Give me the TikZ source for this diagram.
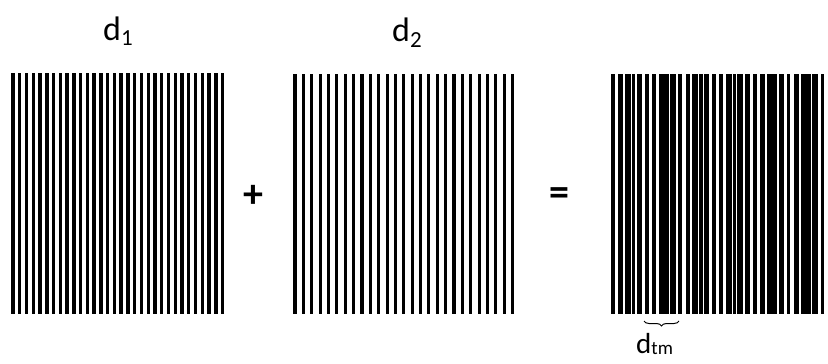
\documentclass[tikz,border=0pt]{standalone}
\usepackage{fontspec}
\setmainfont{Carlito}
\usetikzlibrary{decorations.pathreplacing}

\begin{document}
\begin{tikzpicture}[x=1pt, y=-1pt,
    barone/.style={line width=3.4pt},
    bartwo/.style={line width=3.1pt},
    lbl/.style={inner sep=0pt, anchor=base west, font=\fontsize{34}{34}\selectfont},
    op/.style={inner sep=0pt, font=\fontsize{40}{40}\selectfont\bfseries},
    brc/.style={decorate, decoration={brace, amplitude=5pt}, line width=1pt}
]
\useasboundingbox (0,0) rectangle (828,364);

% Grating d1
\foreach \k in {0,...,31}
  \draw[barone] ({13+6.76*\k},73) -- ({13+6.76*\k},314);

% Grating d2
\foreach \k in {0,...,26}
  \draw[bartwo] ({295+8.37*\k},74) -- ({295+8.37*\k},314);

% Superposition
\begin{scope}
  \clip (610,60) rectangle (826,320);
  \foreach \k in {0,...,31}
    \draw[barone] ({613+6.76*\k},74) -- ({613+6.76*\k},314);
  \foreach \k in {0,...,26}
    \draw[bartwo] ({613+8.37*\k},74) -- ({613+8.37*\k},314);
\end{scope}

% Labels
\node[lbl] (lbla) at (103,40) {d\raisebox{-0.16em}{\fontsize{23}{23}\selectfont 1}};
\node[lbl] (lblb) at (392,41) {d\raisebox{-0.2em}{\fontsize{23}{23}\selectfont 2}};
\node[lbl, font=\fontsize{29}{29}\selectfont] (lbltm) at (636,353) {d\raisebox{-0.05em}{\fontsize{19}{19}\selectfont tm}};

% Operators
\node[op] (plus) at (253,196) {+};
\node[op] (equals) at (559,197) {=};

% Brace
\coordinate (bra) at (679,321);
\coordinate (brb) at (644,321);
\draw[brc] (bra) -- (brb);

\end{tikzpicture}
\end{document}
